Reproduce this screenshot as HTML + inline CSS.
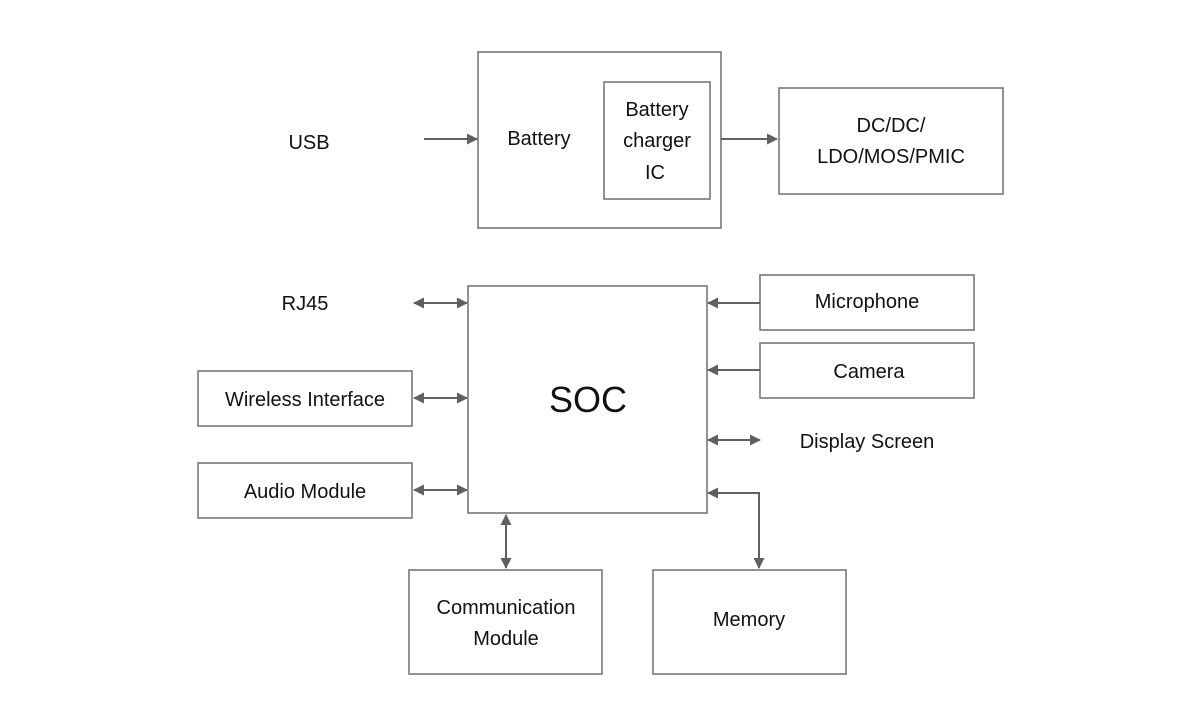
<!DOCTYPE html>
<html><head><meta charset="utf-8"><style>
html,body{margin:0;padding:0;background:#fff;}
svg{display:block;}
text{font-family:"Liberation Sans","Noto Sans CJK SC",sans-serif;fill:#111;font-size:20px;text-anchor:middle;}
.b{fill:none;stroke:#777;stroke-width:1.6;}
.l{stroke:#606060;stroke-width:2;fill:none;}
</style></head><body>
<svg width="1200" height="727" viewBox="0 0 1200 727">
<defs>
<marker id="a" markerWidth="11" markerHeight="11" refX="10" refY="5.5" orient="auto-start-reverse" markerUnits="userSpaceOnUse">
<path d="M0,0 L11,5.5 L0,11 Z" fill="#606060"/></marker>
</defs>
<text x="309" y="149">USB</text>
<line class="l" x1="424" y1="139" x2="477" y2="139" marker-end="url(#a)"/>
<rect class="b" x="478" y="52" width="243" height="176"/>
<text x="539" y="145">Battery</text>
<rect class="b" x="604" y="82" width="106" height="117"/>
<text x="657" y="116">Battery</text>
<text x="657" y="147">charger</text>
<text x="655" y="179">IC</text>
<line class="l" x1="721" y1="139" x2="777" y2="139" marker-end="url(#a)"/>
<rect class="b" x="779" y="88" width="224" height="106"/>
<text x="891" y="132">DC/DC/</text>
<text x="891" y="163">LDO/MOS/PMIC</text>
<rect class="b" x="468" y="286" width="239" height="227"/>
<text x="588" y="412" style="font-size:36px">SOC</text>
<text x="305" y="310">RJ45</text>
<line class="l" x1="414" y1="303" x2="467" y2="303" marker-start="url(#a)" marker-end="url(#a)"/>
<rect class="b" x="198" y="371" width="214" height="55"/>
<text x="305" y="406">Wireless Interface</text>
<line class="l" x1="414" y1="398" x2="467" y2="398" marker-start="url(#a)" marker-end="url(#a)"/>
<rect class="b" x="198" y="463" width="214" height="55"/>
<text x="305" y="498">Audio Module</text>
<line class="l" x1="414" y1="490" x2="467" y2="490" marker-start="url(#a)" marker-end="url(#a)"/>
<rect class="b" x="760" y="275" width="214" height="55"/>
<text x="867" y="308">Microphone</text>
<line class="l" x1="760" y1="303" x2="708" y2="303" marker-end="url(#a)"/>
<rect class="b" x="760" y="343" width="214" height="55"/>
<text x="869" y="378">Camera</text>
<line class="l" x1="760" y1="370" x2="708" y2="370" marker-end="url(#a)"/>
<text x="867" y="448">Display Screen</text>
<line class="l" x1="708" y1="440" x2="760" y2="440" marker-start="url(#a)" marker-end="url(#a)"/>
<polyline class="l" points="708,493 759,493 759,568" marker-start="url(#a)" marker-end="url(#a)"/>
<rect class="b" x="653" y="570" width="193" height="104"/>
<text x="749" y="626">Memory</text>
<line class="l" x1="506" y1="515" x2="506" y2="568" marker-start="url(#a)" marker-end="url(#a)"/>
<rect class="b" x="409" y="570" width="193" height="104"/>
<text x="506" y="614">Communication</text>
<text x="506" y="645">Module</text>
</svg>
</body></html>
